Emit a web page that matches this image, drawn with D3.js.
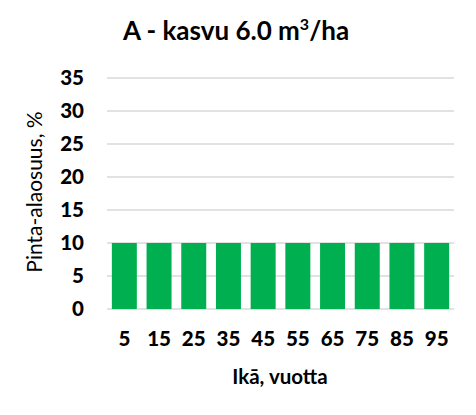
<!DOCTYPE html>
<html><head><meta charset="utf-8">
<script src="https://cdn.jsdelivr.net/npm/d3@7"></script>
<style>body{margin:0;background:#fff}svg{display:block}text{font-family:Lato,"Open Sans",sans-serif;fill:#000}</style>
</head><body>
<script>
const categories = ["5","15","25","35","45","55","65","75","85","95"];
const values = [10,10,10,10,10,10,10,10,10,10];
const yTicks = [0,5,10,15,20,25,30,35];
const titleMain = "A - kasvu 6.0 m";
const titleSup = "3";
const titleEnd = "/ha";
const xTitle = "Ikā, vuotta";
const yTitle = "Pinta-alaosuus, %";

const W=476,H=415;
const svg=d3.select("body").append("svg").attr("width",W).attr("height",H);
const x=d3.scaleBand().domain(categories).range([107,454]).paddingInner(0.28).paddingOuter(0.14);
const y=d3.scaleLinear().domain([0,35]).range([309,78]);

const grid=svg.append("g");
grid.selectAll("line").data(yTicks).join("line")
  .attr("x1",107).attr("x2",454).attr("y1",d=>y(d)).attr("y2",d=>y(d))
  .attr("stroke","#d9d9d9").attr("stroke-width",1.5);

svg.append("g").selectAll("rect").data(values).join("rect")
  .attr("x",(d,i)=>x(categories[i])).attr("width",x.bandwidth())
  .attr("y",d=>y(d)).attr("height",d=>y(0)-y(d)).attr("fill","#00B050");

const yAxis=svg.append("g").attr("transform","translate(107,0)")
  .call(d3.axisLeft(y).tickValues(yTicks).tickSize(0).tickPadding(23));
yAxis.select(".domain").remove();
yAxis.selectAll("text").attr("font-size",20.5).attr("font-weight","900").attr("font-family","Lato");

const xAxis=svg.append("g").attr("transform","translate(0,309)")
  .call(d3.axisBottom(x).tickSize(0).tickPadding(22));
xAxis.select(".domain").remove();
xAxis.selectAll("text").attr("font-size",20.5).attr("font-weight","900").attr("font-family","Lato");

const t=svg.append("text").attr("x",236).attr("y",40).attr("text-anchor","middle")
  .attr("font-size",26).attr("font-weight","bold");
t.append("tspan").text(titleMain);
t.append("tspan").attr("font-size",16).attr("dy",-10).text(titleSup);
t.append("tspan").attr("dy",10).text(titleEnd);

svg.append("text").attr("x",280).attr("y",384).attr("text-anchor","middle")
  .attr("font-size",20.5).attr("font-weight","bold").text(xTitle);

svg.append("text").attr("transform","translate(41.5,192) rotate(-90)").attr("text-anchor","middle")
  .attr("font-size",21).text(yTitle);
</script>
</body></html>
